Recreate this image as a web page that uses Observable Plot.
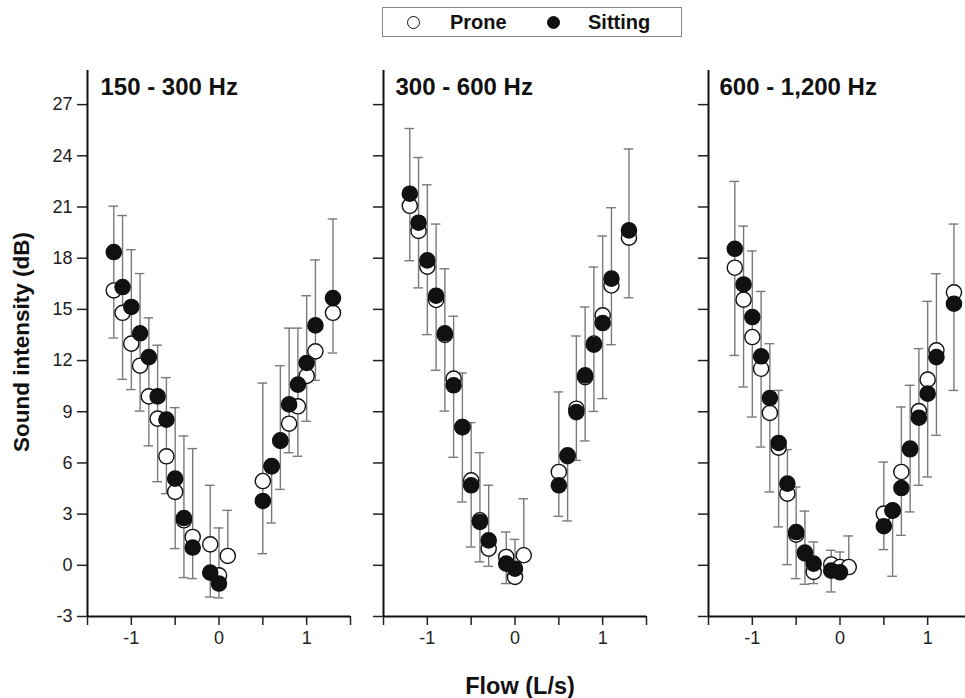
<!DOCTYPE html>
<html><head><meta charset="utf-8">
<script src="https://cdn.jsdelivr.net/npm/d3@7"></script>
<script src="https://cdn.jsdelivr.net/npm/@observablehq/plot@0.6"></script>
<style>
html,body{margin:0;padding:0;background:#fff;overflow:hidden;}
#wrap{position:relative;width:965px;height:698px;overflow:hidden;font-family:"Liberation Sans",Arial,Helvetica,sans-serif;color:#111;}
.panel{position:absolute;top:50px;}
#legend{position:absolute;left:382px;top:7px;width:300px;height:30px;border:1px solid #888;box-sizing:border-box;}
.lg{position:absolute;top:0;line-height:29px;font-weight:bold;font-size:20px;color:#111;}
.cir{position:absolute;top:8px;width:13px;height:13px;border-radius:50%;box-sizing:border-box;border:1.3px solid #111;}
#ylab{position:absolute;left:22px;top:342px;transform:translate(-50%,-50%) rotate(-90deg);white-space:nowrap;font-weight:bold;font-size:22.5px;}
#xlab{position:absolute;left:520px;top:686px;transform:translate(-50%,-50%);white-space:nowrap;font-weight:bold;font-size:23.5px;}
</style></head><body><div id="wrap">
<div id="legend">
  <div class="cir" style="left:24px;background:#fff;"></div>
  <div class="lg" style="left:67px;">Prone</div>
  <div class="cir" style="left:164px;background:#111;"></div>
  <div class="lg" style="left:205px;">Sitting</div>
</div>
<div id="ylab">Sound intensity (dB)</div>
<div id="xlab">Flow (L/s)</div>
</div>
<script>
// Flow values (L/s) shared by all panels
const flow = [-1.2,-1.1,-1.0,-0.9,-0.8,-0.7,-0.6,-0.5,-0.4,-0.3,-0.1,0,0.1,0.5,0.6,0.7,0.8,0.9,1.0,1.1,1.3];
const panelTitles = ["150 - 300 Hz", "300 - 600 Hz", "600 - 1,200 Hz"];
const yTicks = [-3,0,3,6,9,12,15,18,21,24,27];
const xTicks = [-1.5,-1,-0.5,0,0.5,1,1.5];

// 150 - 300 Hz
const sitting1 = [18.36,16.31,15.14,13.6,12.2,9.9,8.54,5.08,2.77,1.04,-0.43,-1.07,null,3.77,5.82,7.32,9.43,10.59,11.86,14.06,15.66];
const prone1   = [16.11,14.8,12.99,11.7,9.9,8.6,6.39,4.3,2.64,1.66,1.23,-0.59,0.55,4.94,5.8,7.3,8.3,9.32,11.1,12.54,14.8];
const barHigh1 = [21.05,20.5,18.5,17.1,14.5,12.9,11.0,9.24,7.58,6.84,4.69,2.19,3.22,10.68,5.82,11.7,13.9,13.9,15.8,17.9,20.3];
const barLow1  = [13.32,10.9,10.3,9.04,7.0,4.9,4.2,0.98,-0.72,-0.78,-1.86,-1.91,0.55,0.68,2.48,4.45,6.6,6.39,8.44,10.84,12.44];

// 300 - 600 Hz
const sitting2 = [21.78,20.08,17.87,15.8,13.6,10.55,8.1,4.69,2.54,1.46,0.1,-0.2,null,4.69,6.45,8.98,11.13,12.93,14.2,16.8,19.63];
const prone2   = [21.07,19.6,17.5,15.55,13.5,10.94,8.1,4.98,2.64,0.98,0.49,-0.68,0.59,5.47,6.4,9.18,11.03,13.0,14.65,16.4,19.2];
const barHigh2 = [25.6,23.9,22.3,20.0,17.38,14.6,11.27,8.36,6.6,4.69,1.95,1.52,3.9,10.16,6.45,13.44,15.14,17.48,19.3,20.96,24.4];
const barLow2  = [17.85,16.26,13.52,11.43,9.04,6.33,3.71,1.07,0.2,-0.06,-1.07,-0.68,0.59,2.87,2.6,6.15,7.29,9.02,9.77,12.93,15.68];

// 600 - 1,200 Hz
const sitting3 = [18.55,16.46,14.55,12.25,9.8,7.17,4.79,1.95,0.75,0.1,-0.31,-0.41,null,2.29,3.22,4.53,6.84,8.65,10.06,12.2,15.33];
const prone3   = [17.44,15.57,13.38,11.52,8.93,6.9,4.2,1.8,0.7,-0.39,0.05,-0.1,-0.1,3.03,3.2,5.47,6.8,9.04,10.88,12.6,16.0];
const barHigh3 = [22.5,19.88,18.42,16.05,12.99,10.25,6.78,4.59,3.18,1.37,0.88,0.78,1.72,6.05,3.22,9.28,10.55,12.7,15.47,17.09,20.0];
const barLow3  = [12.3,10.45,8.69,6.93,4.3,2.25,0.04,-0.78,-1.11,-1.07,-1.56,-0.41,-0.1,0.92,-0.64,1.76,3.13,4.69,5.18,7.62,10.25];

const FONT = '"Liberation Sans", Arial, Helvetica, sans-serif';

function makePanel(title, sit, pro, hi, lo, showLabels, marginLeft, titleDx) {
  const rows = flow.map((x, i) => ({x, sit: sit[i], pro: pro[i], hi: hi[i], lo: lo[i]}));
  const capHalf = 0.055;
  return Plot.plot({
    width: marginLeft + 263 + 16,
    height: 606,
    marginLeft,
    marginRight: 16,
    marginTop: 20,
    marginBottom: 40,
    style: {fontFamily: FONT, fontSize: "18px", color: "#222", background: "transparent", overflow: "visible"},
    x: {domain: [-1.5, 1.5]},
    y: {domain: [-3, 29]},
    marks: [
      Plot.axisY({ticks: yTicks, tickSize: 10, tickPadding: 5, strokeWidth: 1.5, label: null,
                  tickFormat: showLabels ? (d => String(d)) : (() => "")}),
      Plot.axisX({ticks: xTicks, tickSize: 9, tickPadding: 6, strokeWidth: 1.5, label: null,
                  tickFormat: d => Number.isInteger(d) ? String(d) : ""}),
      Plot.ruleX([-1.5], {stroke: "#111", strokeWidth: 2}),
      Plot.ruleY([-3], {stroke: "#111", strokeWidth: 2}),
      Plot.ruleX(rows, {x: "x", y1: "lo", y2: "hi", stroke: "#7a7a7a", strokeWidth: 1.4}),
      Plot.ruleY(rows, {y: "hi", x1: d => d.x - capHalf, x2: d => d.x + capHalf, stroke: "#7a7a7a", strokeWidth: 1.4}),
      Plot.ruleY(rows, {y: "lo", x1: d => d.x - capHalf, x2: d => d.x + capHalf, stroke: "#7a7a7a", strokeWidth: 1.4}),
      Plot.dot(rows.filter(d => d.pro != null), {x: "x", y: "pro", r: 7.6, fill: "#fff", stroke: "#111", strokeWidth: 1.4}),
      Plot.dot(rows.filter(d => d.sit != null), {x: "x", y: "sit", r: 7.6, fill: "#111", stroke: "#111", strokeWidth: 1.4}),
      Plot.text([title], {frameAnchor: "top-left", textAnchor: "start", lineAnchor: "bottom", dx: titleDx, dy: 24,
                          fontSize: 24, fontWeight: "bold", fill: "#111"})
    ]
  });
}

const wrap = document.getElementById("wrap");
const specs = [
  {sit: sitting1, pro: prone1, hi: barHigh1, lo: barLow1, labels: true, ml: 87, left: 0, dx: 13},
  {sit: sitting2, pro: prone2, hi: barHigh2, lo: barLow2, labels: false, ml: 20, left: 363, dx: 12},
  {sit: sitting3, pro: prone3, hi: barHigh3, lo: barLow3, labels: false, ml: 20, left: 688, dx: 11}
];
specs.forEach((s, i) => {
  const el = makePanel(panelTitles[i], s.sit, s.pro, s.hi, s.lo, s.labels, s.ml, s.dx);
  el.classList.add("panel");
  el.style.left = s.left + "px";
  wrap.appendChild(el);
});
</script>
</body></html>
